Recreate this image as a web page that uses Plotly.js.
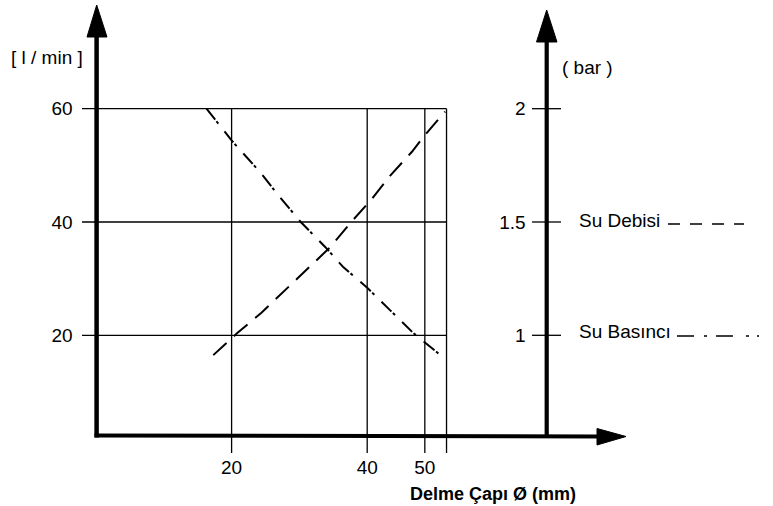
<!DOCTYPE html>
<html>
<head>
<meta charset="utf-8">
<script src="https://cdn.plot.ly/plotly-3.0.1.min.js"></script>
<style>html,body{margin:0;padding:0;background:#fff;}#chart{width:773px;height:506px;}</style>
</head>
<body>
<div id="chart"></div>
<script>
// ---- data ----
const debisiX = [17.3, 20.75, 24.4, 27.8, 31.1, 34.5, 37.5, 40.7, 43.4, 46.6, 48.4, 51.5];   // mm
const debisiY = [16.5, 20.3, 24.0, 27.9, 31.7, 35.5, 39.8, 44.1, 48.2, 52.4, 55.2, 59.5];    // l/min
const basincX = [16.3, 20.0, 24.2, 27.1, 30.2, 33.8, 36.5, 40.0, 43.4, 46.8, 50.5];          // mm
const basincY = [2.00, 1.86, 1.72, 1.61, 1.50, 1.39, 1.30, 1.21, 1.11, 1.01, 0.92];          // bar
const xTickVals = [20, 40, 48.5];
const xTickText = ['20', '40', '50'];
const xGridVals = [20, 40, 48.5, 51.7];
const yTickVals = [20, 40, 60];
const yTickText = ['20', '40', '60'];
const barTickVals = [1, 1.5, 2];
const barTickText = ['1', '1.5', '2'];
const seriesNames = ['Su Debisi', 'Su Basıncı'];
const xTitle = 'Delme Çapı Ø (mm)';
const yTitle = '[ l / min ]';
const y2Title = '( bar )';

// ---- geometry ----
const W = 773, H = 506;
const X0PX = 96, XPX = 6.78;     // pixel of x=0, pixels per mm
const Y40PX = 222, YPX = 5.665;  // pixel of y=40, pixels per l/min
const dx = p => (p - X0PX) / XPX;
const dy = p => 40 - (p - Y40PX) / YPX;
const toBar = v => v / 40 + 0.5;
const px = p => p / W;
const py = p => 1 - p / H;
const FONT = '"Liberation Sans", Arial, sans-serif';
const FS = 19;
const K = '#000';

const yRange = [dy(H), dy(0)];
const y2Range = [toBar(yRange[0]), toBar(yRange[1])];
const yTop = Math.max(...yTickVals);
const boxRight = xGridVals[xGridVals.length - 1];

const shapes = [];
yTickVals.forEach(v => shapes.push({type:'line', xref:'x', yref:'y', x0:dx(82), x1:boxRight, y0:v, y1:v, line:{color:K, width:1.3}}));
xGridVals.forEach(v => shapes.push({type:'line', xref:'x', yref:'y', x0:v, x1:v, y0:yTop, y1:dy(453), line:{color:K, width:1.3}}));
barTickVals.forEach(v => shapes.push({type:'line', xref:'paper', yref:'y2', x0:px(532), x1:px(561), y0:v, y1:v, line:{color:K, width:1.3}}));
// axes with arrows
shapes.push({type:'line', xref:'paper', yref:'paper', x0:px(96.6), x1:px(96.6), y0:py(437.5), y1:py(34), line:{color:K, width:4.5}});
shapes.push({type:'path', xref:'paper', yref:'paper', path:`M ${px(87)} ${py(37)} L ${px(96.7)} ${py(5)} L ${px(107)} ${py(37)} Z`, fillcolor:K, line:{color:K, width:1}});
shapes.push({type:'line', xref:'paper', yref:'paper', x0:px(94.5), x1:px(600), y0:py(435.5), y1:py(436.5), line:{color:K, width:4}});
shapes.push({type:'path', xref:'paper', yref:'paper', path:`M ${px(597)} ${py(428.5)} L ${px(626)} ${py(436.5)} L ${px(597)} ${py(445)} Z`, fillcolor:K, line:{color:K, width:1}});
shapes.push({type:'line', xref:'paper', yref:'paper', x0:px(546.7), x1:px(546.7), y0:py(437), y1:py(38), line:{color:K, width:4.2}});
shapes.push({type:'path', xref:'paper', yref:'paper', path:`M ${px(536.5)} ${py(42)} L ${px(546.7)} ${py(10)} L ${px(557)} ${py(42)} Z`, fillcolor:K, line:{color:K, width:1}});
// legend samples
shapes.push({type:'line', xref:'paper', yref:'paper', x0:px(668), x1:px(744), y0:py(224), y1:py(224), line:{color:K, width:1.3, dash:'12px,10px'}});
shapes.push({type:'line', xref:'paper', yref:'paper', x0:px(677), x1:px(759), y0:py(336), y1:py(336), line:{color:K, width:1.3, dash:'17px,10px,3px,9px,17px,13px,3px,8px,3px,60px'}});

const ann = (x, y, text, opts) => Object.assign({xref:'paper', yref:'paper', x:px(x), y:py(y), text, showarrow:false, xanchor:'center', yanchor:'middle', font:{family:FONT, size:FS, color:K}}, opts || {});
const annotations = [
  ann(47, 57, yTitle),
  ann(587, 67, y2Title),
  ann(577, 221, seriesNames[0], {xanchor:'left'}),
  ann(577, 331, seriesNames[1], {xanchor:'left'}),
  ann(492.5, 494, '<b>' + xTitle + '</b>', {font:{family:FONT, size:18, color:K}})
];

const traces = [
  {type:'scatter', mode:'lines', name:seriesNames[0], x:debisiX, y:debisiY, yaxis:'y', line:{color:K, width:2, dash:'18px,10px'}},
  {type:'scatter', mode:'lines', name:seriesNames[1], x:basincX, y:basincY, yaxis:'y2', line:{color:K, width:2, dash:'14px,2px,3px,10px'}}
];

const tickFont = {family:FONT, size:FS, color:K};
const layout = {
  width:W, height:H, margin:{l:0, r:0, t:0, b:0, pad:0},
  paper_bgcolor:'#fff', plot_bgcolor:'#fff', showlegend:false,
  xaxis:{range:[dx(0), dx(W)], tickvals:xTickVals, ticktext:xTickText, showgrid:false, zeroline:false, showline:false, ticks:'', anchor:'free', position:py(436), ticklabelstandoff:18, tickfont:tickFont, fixedrange:true},
  yaxis:{range:yRange, tickvals:yTickVals, ticktext:yTickText, showgrid:false, zeroline:false, showline:false, ticks:'', anchor:'free', position:px(96.6), side:'left', ticklabelstandoff:24, tickfont:tickFont, fixedrange:true},
  yaxis2:{range:y2Range, tickvals:barTickVals, ticktext:barTickText, overlaying:'y', showgrid:false, zeroline:false, showline:false, ticks:'', anchor:'free', position:px(546.7), side:'left', ticklabelstandoff:21, tickfont:tickFont, fixedrange:true},
  shapes, annotations
};
Plotly.newPlot('chart', traces, layout, {displayModeBar:false, staticPlot:true});
</script>
</body>
</html>
